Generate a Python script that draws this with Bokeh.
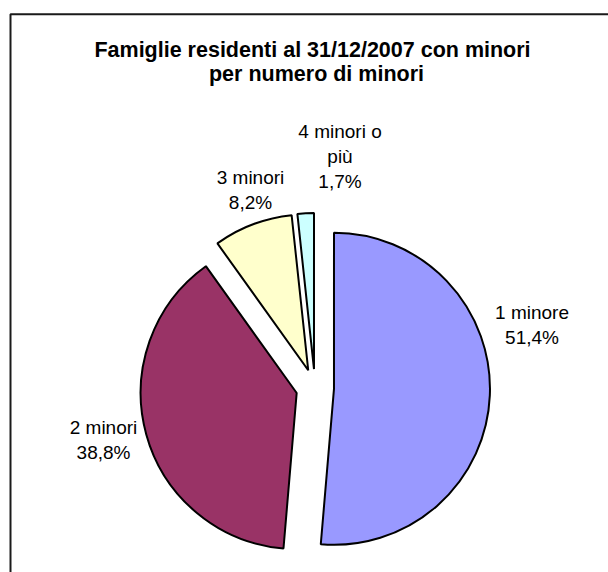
import math
from bokeh.plotting import figure
from bokeh.models import Range1d, ColumnDataSource
from bokeh.embed import file_html
from bokeh.resources import INLINE
from bokeh.core.properties import value

# ---------------- data ----------------
title_lines = ["Famiglie residenti al 31/12/2007 con minori", "per numero di minori"]
categories = ["1 minore", "2 minori", "3 minori", "4 minori o più"]
category_lines = [["1 minore"], ["2 minori"], ["3 minori"], ["4 minori o", "più"]]
percent = [51.4, 38.8, 8.2, 1.7]
colors = ["#9999FF", "#993366", "#FFFFCC", "#CCFFFF"]

# ---------------- layout (page pixels) ----------------
W, H = 608, 572
def px(x):
    return x
def py(y):
    return H - y

CX, CY = 314.5, 387.5      # pie centre (page px)
R = 156                    # pie radius
EXPLODE = 19               # explode distance
LINE_STEP = 25             # label line spacing
# offset (page px) of each label's centre x / first baseline from pie centre
label_anchor = [(217, -76), (-211.5, 39), (-64.5, -211), (25, -257)]

p = figure(width=W, height=H, x_range=Range1d(0, W), y_range=Range1d(0, H),
           output_backend="svg", toolbar_location=None,
           x_axis_location=None, y_axis_location=None, min_border=0)
p.grid.visible = False
p.outline_line_color = None
p.background_fill_color = "white"
p.border_fill_color = "white"

# chart-area border (left and top edges visible)
p.line(x=[px(10), px(10), px(640)], y=[py(600), py(13.7), py(13.7)],
       line_color="#1a1a1a", line_width=2)

# pie wedges
total = sum(percent)
xs, ys, starts, ends = [], [], [], []
acc = 0.0
for v in percent:
    t1 = acc / total * 360.0
    acc += v
    t2 = acc / total * 360.0
    tm = math.radians((t1 + t2) / 2)
    xs.append(px(CX) + EXPLODE * math.sin(tm))
    ys.append(py(CY) + EXPLODE * math.cos(tm))
    starts.append(math.radians(90 - t2))
    ends.append(math.radians(90 - t1))

src = ColumnDataSource(dict(x=xs, y=ys, start=starts, end=ends, color=colors,
                            cat=categories, pct=percent))
p.wedge(x="x", y="y", radius=R, start_angle="start", end_angle="end",
        direction="anticlock", fill_color="color", line_color="black",
        line_width=2, source=src)

# data labels
lx, ly, lt = [], [], []
for lines, v, (dx, dy) in zip(category_lines, percent, label_anchor):
    all_lines = lines + [f"{v:.1f}".replace(".", ",") + "%"]
    for i, t in enumerate(all_lines):
        lx.append(px(CX + dx))
        ly.append(py(CY + dy + i * LINE_STEP))
        lt.append(t)
p.text(x=lx, y=ly, text=lt, text_font=value("Liberation Sans"),
       text_font_size="19px", text_align="center", text_baseline="alphabetic",
       text_color="black")

# title
p.text(x=[px(312), px(316)], y=[py(49.2), py(73)], text=title_lines,
       text_font=value("Liberation Sans"), text_font_size="21.5px",
       text_font_style="bold", text_align="center", text_baseline="alphabetic",
       text_color="black")

open("out.html", "w").write(file_html(p, INLINE))
